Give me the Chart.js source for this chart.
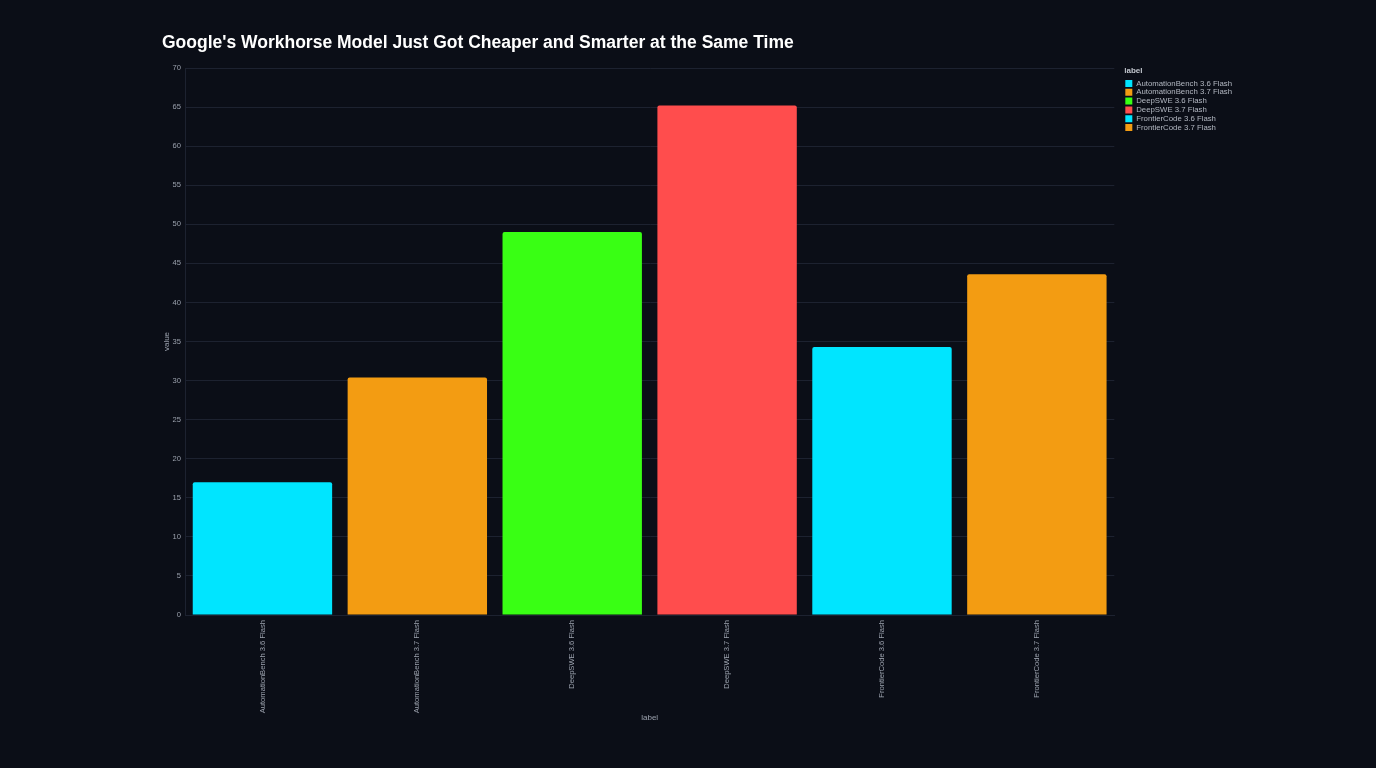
<!DOCTYPE html>
<html>
<head>
<meta charset="utf-8">
<title>Workhorse Model</title>
<script src="https://cdn.jsdelivr.net/npm/chart.js@4.4.1/dist/chart.umd.min.js"></script>
<style>
  html, body { margin: 0; padding: 0; background: #0b0e17; }
  #wrap { width: 1376px; height: 768px; }
</style>
</head>
<body>
<div id="wrap"><canvas id="chart" width="1376" height="768"></canvas></div>
<script>
// chart data
const categories = [
    'AutomationBench 3.6 Flash',
    'AutomationBench 3.7 Flash',
    'DeepSWE 3.6 Flash',
    'DeepSWE 3.7 Flash',
    'FrontierCode 3.6 Flash',
    'FrontierCode 3.7 Flash'
];
const scores = [17.0, 30.4, 49.0, 65.2, 34.3, 43.6];
const barColors = ['#00e5ff', '#f39c12', '#39ff14', '#ff4d4d', '#00e5ff', '#f39c12'];
const yMax = 70;
const yStep = 5;

const textColor = '#9ba1ad';
const gridColor = '#1d2230';

Chart.defaults.font.family = '"Liberation Sans", Arial, sans-serif';

const ctx = document.getElementById('chart').getContext('2d');
new Chart(ctx, {
    type: 'bar',
    data: {
        labels: categories,
        datasets: [{
            label: 'value',
            data: scores,
            backgroundColor: barColors,
            borderWidth: 0,
            borderRadius: 2,
            borderSkipped: 'start',
            barPercentage: 0.9,
            categoryPercentage: 1.0
        }]
    },
    options: {
        responsive: false,
        animation: false,
        layout: {
            padding: { top: 33, left: 162, right: 134, bottom: 40 }
        },
        plugins: {
            title: {
                display: true,
                text: "Google's Workhorse Model Just Got Cheaper and Smarter at the Same Time",
                align: 'start',
                color: '#ffffff',
                font: { size: 17.5, weight: 'bold' },
                padding: { top: 0, bottom: 14 }
            },
            legend: {
                display: true,
                position: 'right',
                align: 'start',
                title: {
                    display: true,
                    text: 'label',
                    position: 'start',
                    color: '#c3c7cf',
                    font: { size: 8, weight: 'bold' },
                    padding: { top: 34, bottom: 2 }
                },
                labels: {
                    color: '#b3b8c2',
                    font: { size: 7.8 },
                    boxWidth: 7,
                    boxHeight: 7,
                    padding: 1,
                    generateLabels: function () {
                        return categories.map((name, i) => ({
                            text: name,
                            fillStyle: barColors[i],
                            strokeStyle: barColors[i],
                            lineWidth: 0,
                            fontColor: '#b3b8c2',
                            index: i
                        }));
                    }
                },
                onClick: function () {}
            },
            tooltip: { enabled: false }
        },
        scales: {
            x: {
                grid: { display: false, drawTicks: false },
                border: { display: true, color: gridColor },
                ticks: {
                    color: textColor,
                    font: { size: 7.6 },
                    minRotation: 90,
                    maxRotation: 90,
                    padding: 5
                },
                title: {
                    display: true,
                    text: 'label',
                    color: textColor,
                    font: { size: 8 },
                    padding: { top: 4, bottom: 5 }
                },
                afterFit: function (scale) { scale.height = 113; }
            },
            y: {
                min: 0,
                max: yMax,
                grid: { color: gridColor, drawTicks: false },
                border: { display: true, color: gridColor },
                ticks: {
                    stepSize: yStep,
                    color: textColor,
                    font: { size: 7.6 },
                    padding: 4
                },
                title: {
                    display: true,
                    text: 'value',
                    color: textColor,
                    font: { size: 8 },
                    padding: { top: 0, bottom: 0 }
                },
                afterFit: function (scale) { scale.width = 23; }
            },
            // spacer between plot and legend
            gap: {
                type: 'linear',
                position: 'right',
                display: true,
                grid: { display: false, drawTicks: false },
                border: { display: false },
                ticks: { display: false },
                afterFit: function (scale) { scale.width = 10; }
            }
        }
    }
});
</script>
</body>
</html>
